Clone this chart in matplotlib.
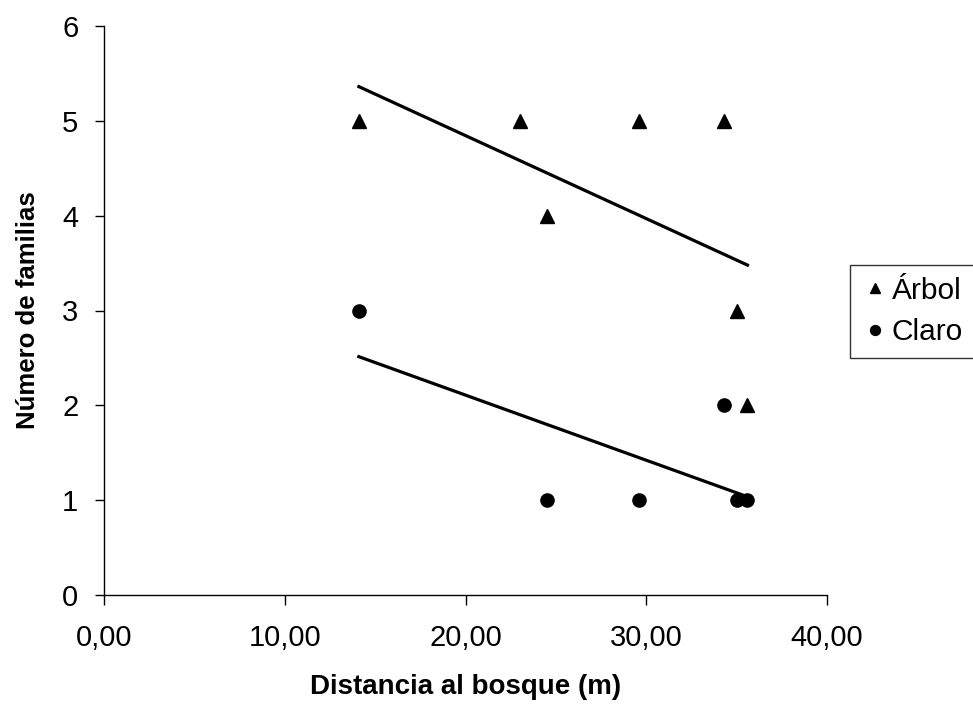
import numpy as np
import matplotlib
matplotlib.use("Agg")
import matplotlib.pyplot as plt
from matplotlib.ticker import FuncFormatter

plt.rcParams['font.family'] = ['Liberation Sans', 'DejaVu Sans']

# datos
dist_arbol = [14.1, 23.0, 24.5, 29.6, 34.3, 35.0, 35.6]
fam_arbol = [5, 5, 4, 5, 5, 3, 2]
dist_claro = [14.1, 24.5, 29.6, 34.3, 35.0, 35.6]
fam_claro = [3, 1, 1, 2, 1, 1]

fig = plt.figure(figsize=(9.73, 7.06), dpi=100)
ax = fig.add_axes([104 / 973, 1 - 595 / 706, 723 / 973, 569 / 706])

ax.plot(dist_arbol, fam_arbol, '^', color='black', markersize=10, label='Árbol', clip_on=False)
ax.plot(dist_claro, fam_claro, 'o', color='black', markersize=9.5, label='Claro', clip_on=False)

# lineas de tendencia (regresion lineal)
for xs, ys in [(dist_arbol, fam_arbol), (dist_claro, fam_claro)]:
    m, b = np.polyfit(xs, ys, 1)
    xl = np.array([min(xs), max(xs)])
    ax.plot(xl, m * xl + b, color='black', linewidth=2.3)

ax.set_xlim(0, 40)
ax.set_ylim(0, 6)
ax.set_xticks([0, 10, 20, 30, 40])
ax.set_yticks(range(0, 7))
ax.xaxis.set_major_formatter(FuncFormatter(lambda v, p: f"{v:.2f}".replace('.', ',')))

for s in ['top', 'right']:
    ax.spines[s].set_visible(False)
ax.spines['left'].set_linewidth(1)
ax.spines['bottom'].set_linewidth(1)
ax.tick_params(axis='both', labelsize=21, direction='out', width=1)
ax.tick_params(axis='x', length=7, pad=14)
ax.tick_params(axis='y', length=6.5, pad=12)

ax.set_xlabel('Distancia al bosque (m)', fontsize=20, fontweight='bold', labelpad=16)
ax.set_ylabel('Número de familias', fontsize=18.5, fontweight='bold', labelpad=16)

leg = fig.legend(loc='upper left', bbox_to_anchor=(850 / 973, 1 - 265 / 706), fontsize=21.5,
                 frameon=True, fancybox=False, edgecolor='black', handletextpad=0.15,
                 handlelength=0.85, borderpad=0.4, labelspacing=0.45, markerscale=0.75,
                 borderaxespad=0)
leg.get_frame().set_linewidth(1)

fig.savefig('out.png', dpi=100)
